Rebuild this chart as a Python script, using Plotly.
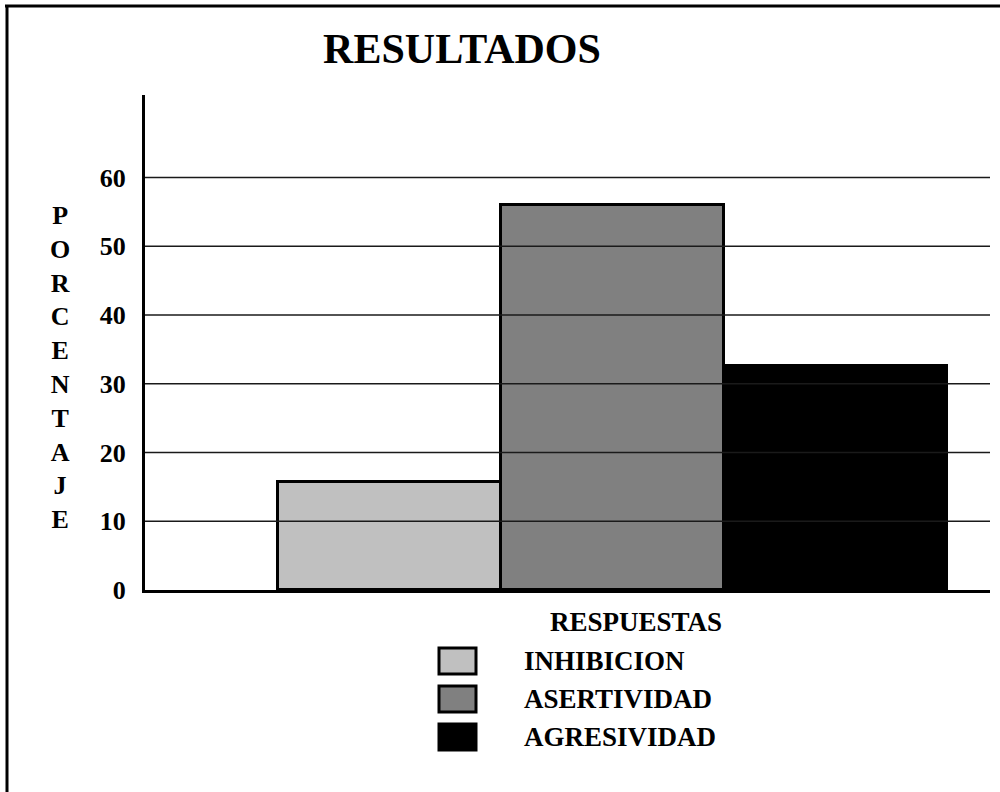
import plotly.graph_objects as go

# ---- data ----
categories = ["INHIBICION", "ASERTIVIDAD", "AGRESIVIDAD"]
values = [15.7, 56.0, 32.6]
colors = ["#c0c0c0", "#808080", "#000000"]
y_ticks = [0, 10, 20, 30, 40, 50, 60]
title_text = "RESULTADOS"
x_title = "RESPUESTAS"
y_title = "PORCENTAJE"

W, H = 1000, 792
ML, MR, MT, MB = 145, 10, 95, 202
PW, PH = W - ML - MR, H - MT - MB
SERIF = "Liberation Serif, Times New Roman, serif"


def px(x):
    return (x - ML) / PW


def py(y):
    return (H - MB - y) / PH


fig = go.Figure()
fig.add_trace(go.Bar(
    x=categories, y=values,
    marker=dict(color=colors, line=dict(color="black", width=3)),
    width=1.0, showlegend=False, hoverinfo="x+y",
))

shapes = []
# gridlines drawn above bars
for v in y_ticks[1:]:
    shapes.append(dict(type="line", xref="paper", yref="y", x0=0, x1=1, y0=v, y1=v,
                       line=dict(color="#1a1a1a", width=1.6), layer="above"))
# frame (top and left only)
shapes.append(dict(type="line", xref="paper", yref="paper", x0=px(5), x1=px(1000), y0=py(6), y1=py(6),
                   line=dict(color="black", width=3)))
shapes.append(dict(type="line", xref="paper", yref="paper", x0=px(7), x1=px(7), y0=py(5), y1=py(792),
                   line=dict(color="black", width=3)))

annotations = []
# stacked vertical y title
annotations.append(dict(text="<br>".join(list(y_title)), xref="paper", yref="paper",
                        x=px(60), y=py(367), xanchor="center", yanchor="middle",
                        showarrow=False, align="center",
                        font=dict(family=SERIF, size=26, color="black", weight="bold")))
# x title
annotations.append(dict(text=x_title, xref="paper", yref="paper", x=px(636), y=py(622),
                        xanchor="center", yanchor="middle", showarrow=False,
                        font=dict(family=SERIF, size=27, color="black", weight="bold")))
# manual legend
for i, (cat, col) in enumerate(zip(categories, colors)):
    cy = 661 + i * 38
    shapes.append(dict(type="rect", xref="paper", yref="paper",
                       x0=px(439), x1=px(476), y0=py(cy - 13), y1=py(cy + 13),
                       fillcolor=col, line=dict(color="black", width=3)))
    annotations.append(dict(text=cat, xref="paper", yref="paper", x=px(522), y=py(cy),
                            xanchor="left", yanchor="middle", showarrow=False,
                            font=dict(family=SERIF, size=27, color="black", weight="bold")))

fig.update_layout(
    width=W, height=H,
    margin=dict(l=ML, r=MR, t=MT, b=MB, pad=0),
    paper_bgcolor="white", plot_bgcolor="white",
    bargap=0,
    title=dict(text="<b>" + title_text + "</b>", x=0.462, xanchor="center",
               y=1 - 48 / H, yanchor="middle",
               font=dict(family=SERIF, size=42, color="black")),
    xaxis=dict(range=[-1.096, 2.693], showticklabels=False, showgrid=False, zeroline=False,
               showline=True, linecolor="black", linewidth=3, ticks="", layer="above traces",
               fixedrange=True),
    yaxis=dict(range=[0, 72], tickvals=y_ticks, showgrid=False, zeroline=False,
               showline=True, linecolor="black", linewidth=3, ticks="",
               ticklabelstandoff=11, layer="above traces",
               tickfont=dict(family=SERIF, size=26, color="black", weight="bold"),
               fixedrange=True),
    shapes=shapes, annotations=annotations,
    font=dict(family=SERIF, color="black"),
)

fig.write_html("out.html")
